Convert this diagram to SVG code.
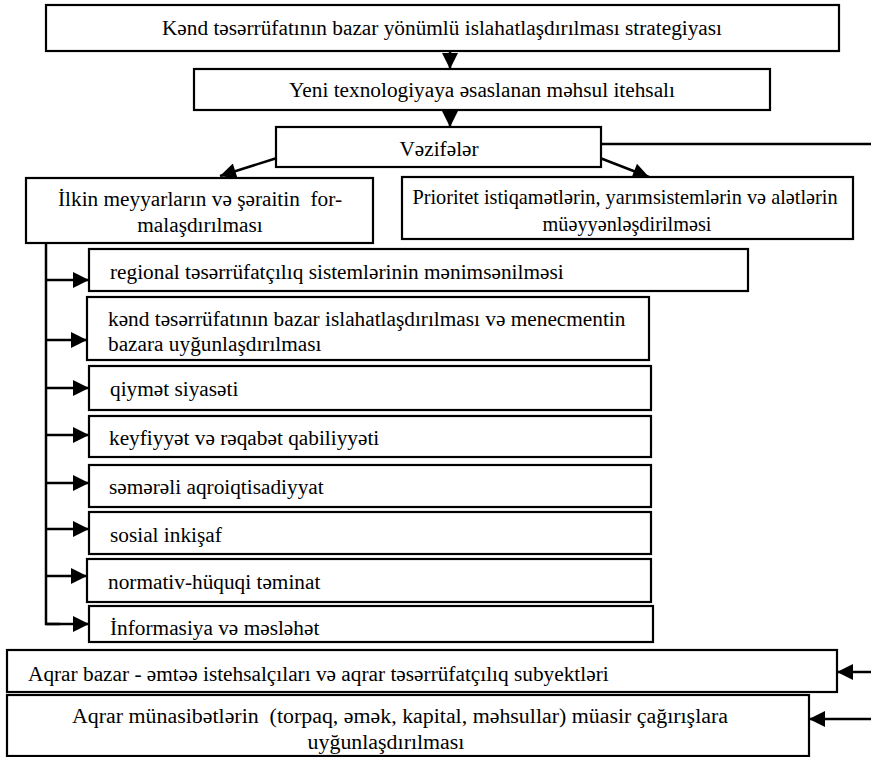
<svg xmlns="http://www.w3.org/2000/svg" width="871" height="757" viewBox="0 0 871 757">
<defs>
<marker id="ah" viewBox="0 0 10 10" refX="10" refY="5" markerWidth="18" markerHeight="16" markerUnits="userSpaceOnUse" orient="auto">
<path d="M0,0 L10,5 L0,10 z" fill="#000"/>
</marker>
<style>
.box{fill:#fff;stroke:#000;stroke-width:2.2}
.c{text-anchor:middle}
.ln{fill:none;stroke:#000;stroke-width:2.5}
.ar{fill:none;stroke:#000;stroke-width:2.5;marker-end:url(#ah)}
</style>
</defs>
<rect width="871" height="757" fill="#fff"/>
<g id="connectors">
<line class="ar" x1="450" y1="51" x2="450" y2="69"/>
<line class="ar" x1="450" y1="110" x2="450" y2="127"/>
<line class="ar" x1="277" y1="158" x2="220" y2="176"/>
<line class="ar" x1="600" y1="158" x2="649" y2="177"/>
<line class="ln" x1="601" y1="144" x2="871" y2="144"/>
<polyline class="ln" points="46,243 46,624 60,624"/>
<line class="ar" x1="46" y1="280" x2="89" y2="280"/>
<line class="ar" x1="46" y1="340" x2="87" y2="340"/>
<line class="ar" x1="46" y1="388" x2="89" y2="388"/>
<line class="ar" x1="46" y1="435" x2="89" y2="435"/>
<line class="ar" x1="46" y1="483" x2="89" y2="483"/>
<line class="ar" x1="46" y1="529" x2="89" y2="529"/>
<line class="ar" x1="46" y1="576" x2="87" y2="576"/>
<line class="ar" x1="46" y1="624" x2="89" y2="624"/>
<line class="ar" x1="871" y1="672" x2="837" y2="672"/>
<line class="ar" x1="871" y1="719" x2="809" y2="719"/>
</g>
<g font-family="Liberation Serif, Times New Roman, DejaVu Serif, serif" font-size="21.3" fill="#000">
<g id="n1"><rect class="box" x="46" y="5" width="793" height="46"/>
<text class="c" x="442" y="35">Kənd təsərrüfatının bazar yönümlü islahatlaşdırılması strategiyası</text></g>
<g id="n2"><rect class="box" x="194" y="69" width="576" height="41"/>
<text class="c" x="482" y="97">Yeni texnologiyaya əsaslanan məhsul itehsalı</text></g>
<g id="n3"><rect class="box" x="276" y="127" width="325" height="40"/>
<text class="c" x="439" y="156">Vəzifələr</text></g>
<g id="n4"><rect class="box" x="26" y="178" width="347" height="65"/>
<text class="c" x="200" y="206" xml:space="preserve">İlkin meyyarların və şəraitin  for-</text>
<text class="c" x="200" y="232">malaşdırılması</text></g>
<g id="n5" font-size="20.3"><rect class="box" x="402" y="177" width="451" height="62"/>
<text class="c" x="625" y="204">Prioritet istiqamətlərin, yarımsistemlərin və alətlərin</text>
<text class="c" x="627" y="231">müəyyənləşdirilməsi</text></g>
<g id="n6"><rect class="box" x="89" y="249" width="659" height="42"/>
<text x="110" y="279">regional təsərrüfatçılıq sistemlərinin mənimsənilməsi</text></g>
<g id="n7"><rect class="box" x="87" y="297" width="562" height="63"/>
<text x="108" y="326">kənd təsərrüfatının bazar islahatlaşdırılması və menecmentin</text>
<text x="108" y="351">bazara uyğunlaşdırılması</text></g>
<g id="n8"><rect class="box" x="89" y="366" width="562" height="44"/>
<text x="110" y="396">qiymət siyasəti</text></g>
<g id="n9"><rect class="box" x="89" y="416" width="562" height="41"/>
<text x="109" y="445">keyfiyyət və rəqabət qabiliyyəti</text></g>
<g id="n10"><rect class="box" x="89" y="465" width="562" height="42"/>
<text x="109" y="494">səmərəli aqroiqtisadiyyat</text></g>
<g id="n11"><rect class="box" x="89" y="512" width="562" height="42"/>
<text x="110" y="542">sosial inkişaf</text></g>
<g id="n12"><rect class="box" x="87" y="559" width="564" height="43"/>
<text x="108" y="589">normativ-hüquqi təminat</text></g>
<g id="n13"><rect class="box" x="89" y="606" width="564" height="36"/>
<text x="110" y="635">İnformasiya və məsləhət</text></g>
<g id="n14"><rect class="box" x="7" y="650" width="830" height="42"/>
<text x="28" y="681">Aqrar bazar - əmtəə istehsalçıları və aqrar təsərrüfatçılıq subyektləri</text></g>
<g id="n15" font-size="21.9"><rect class="box" x="7" y="695" width="802" height="61"/>
<text class="c" x="400" y="723" xml:space="preserve">Aqrar münasibətlərin  (torpaq, əmək, kapital, məhsullar) müasir çağırışlara</text>
<text class="c" x="386" y="749">uyğunlaşdırılması</text></g>
</g>
</svg>
